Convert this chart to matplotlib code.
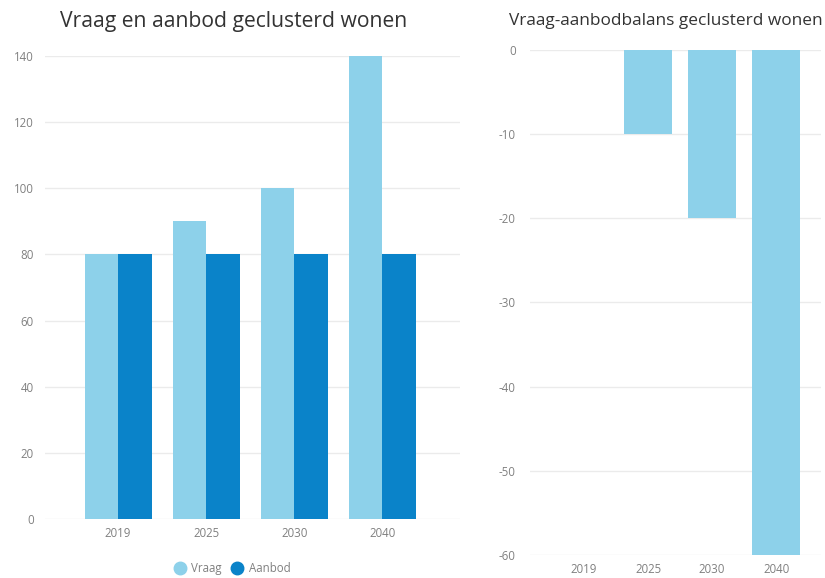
import matplotlib
matplotlib.use("Agg")
import matplotlib.pyplot as plt
import numpy as np
from matplotlib.lines import Line2D

plt.rcParams['font.family'] = ['Open Sans', 'DejaVu Sans']
plt.rcParams['axes.unicode_minus'] = False

years = ['2019', '2025', '2030', '2040']
vraag = [80, 90, 100, 140]
aanbod = [80, 80, 80, 80]
balans = [0, -10, -20, -60]

c_light = '#8DD1EA'
c_dark = '#0A83C9'
grid_c = '#EBEBEB'
tick_c = '#808080'

fig = plt.figure(figsize=(8.25, 5.78), dpi=100)

# Left chart
ax1 = fig.add_axes([0.0545, 0.102, 0.503, 0.801])
x = np.arange(len(years))
w = 0.38
ax1.bar(x - w/2, vraag, width=w, color=c_light, zorder=3)
ax1.bar(x + w/2, aanbod, width=w, color=c_dark, zorder=3)
ax1.set_ylim(0, 140)
ax1.set_xlim(-0.83, 3.88)
ax1.set_yticks(range(0, 141, 20))
ax1.set_xticks(x)
ax1.set_xticklabels(years)
ax1.grid(axis='y', color=grid_c, linewidth=1, zorder=0)
for s in ax1.spines.values():
    s.set_visible(False)
ax1.tick_params(length=0, colors=tick_c, labelsize=8.3)
ax1.tick_params(axis='y', pad=8)
ax1.tick_params(axis='x', pad=6)
fig.text(0.073, 0.963, 'Vraag en aanbod geclusterd wonen', fontsize=15.2,
         color='#333333', ha='left', va='center')
handles = [Line2D([], [], marker='o', linestyle='', markersize=9, color=c_light),
           Line2D([], [], marker='o', linestyle='', markersize=9, color=c_dark)]
leg = fig.legend(handles, ['Vraag', 'Aanbod'], loc='center', bbox_to_anchor=(0.278, 0.017),
                 ncol=2, frameon=False, fontsize=8.3, handletextpad=0.0, columnspacing=0.3,
                 labelcolor=tick_c)

# Right chart
ax2 = fig.add_axes([0.642, 0.0398, 0.353, 0.8737])
ax2.bar(x, balans, width=0.74, color=c_light, zorder=3)
ax2.set_ylim(-60, 0)
ax2.set_xlim(-0.85, 3.7)
ax2.set_yticks(range(-60, 1, 10))
ax2.set_xticks(x)
ax2.set_xticklabels(years)
ax2.grid(axis='y', color=grid_c, linewidth=1, zorder=0)
for s in ax2.spines.values():
    s.set_visible(False)
ax2.tick_params(length=0, colors=tick_c, labelsize=8.3)
ax2.tick_params(axis='y', pad=10)
ax2.tick_params(axis='x', pad=6)
fig.text(0.617, 0.963, 'Vraag-aanbodbalans geclusterd wonen', fontsize=12.4,
         color='#333333', ha='left', va='center')

fig.savefig('out.png', dpi=100, facecolor='white')
